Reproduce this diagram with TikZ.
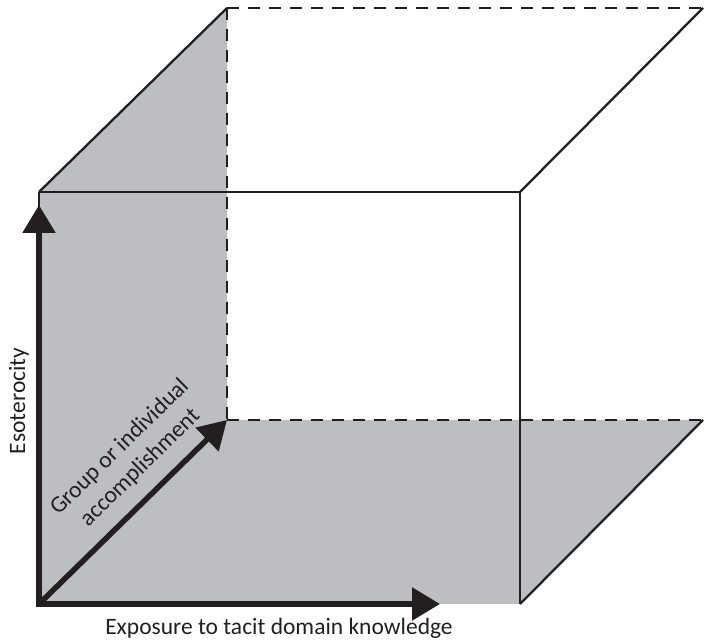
\documentclass[tikz,border=0pt]{standalone}
\usepackage{fontspec}
\setmainfont{Carlito}
\usetikzlibrary{arrows.meta}
\definecolor{wall}{RGB}{189,190,193}
\definecolor{ink}{RGB}{35,31,32}
\begin{document}
\begin{tikzpicture}[x=1pt,y=1pt,
  edge/.style={draw=ink,line width=2.3pt},
  hidden/.style={draw=ink,line width=2.8pt,dash pattern=on 12pt off 9pt},
  axis/.style={draw=ink,line width=5.5pt,-{Triangle[length=28pt,width=32pt]}},
  lbl/.style={font=\fontsize{23.5}{29}\selectfont,text=ink,inner sep=0pt}]
\useasboundingbox (0,0) rectangle (704,644);
\coordinate (A) at (39,40);
\coordinate (B) at (39,452);
\coordinate (C) at (520,452);
\coordinate (D) at (520,40);
\coordinate (E) at (227,636);
\coordinate (F) at (703,636);
\coordinate (G) at (227,224);
\coordinate (H) at (703,224);
% grey walls
\fill[wall] (B) -- (E) -- (G) -- (A) -- cycle;
\fill[wall] (A) -- (G) -- (H) -- (D) -- cycle;
% hidden edges
\draw[hidden] (E) -- (F);
\draw[hidden] (E) -- (G);
\draw[hidden] (G) -- (H);
% visible edges
\draw[edge] (B) -- (E);
\draw[edge] (C) -- (F);
\draw[edge] (D) -- (H);
\draw[edge] (B) -- (C) -- (D);
\draw[edge] (A) -- (B);
% axes
\coordinate (Ytip) at (39,439);
\coordinate (Xtip) at (440,40);
\draw[axis] (A) -- (Ytip);
\draw[axis] (A) -- (Xtip);
\draw[axis] (A) -- (G);
\draw[ink,line width=5.5pt,line join=miter] (39,60) -- (A) -- (60,40);
% labels
\node[lbl,anchor=base] (xl) at (279,9) {Exposure to tacit domain knowledge};
\node[lbl,rotate=90,anchor=base] (yl) at (25,243) {Esoterocity};
\node[lbl,rotate=44.4,align=center] (zl) at (130,186.5) {Group or individual\\accomplishment};
\end{tikzpicture}
\end{document}
